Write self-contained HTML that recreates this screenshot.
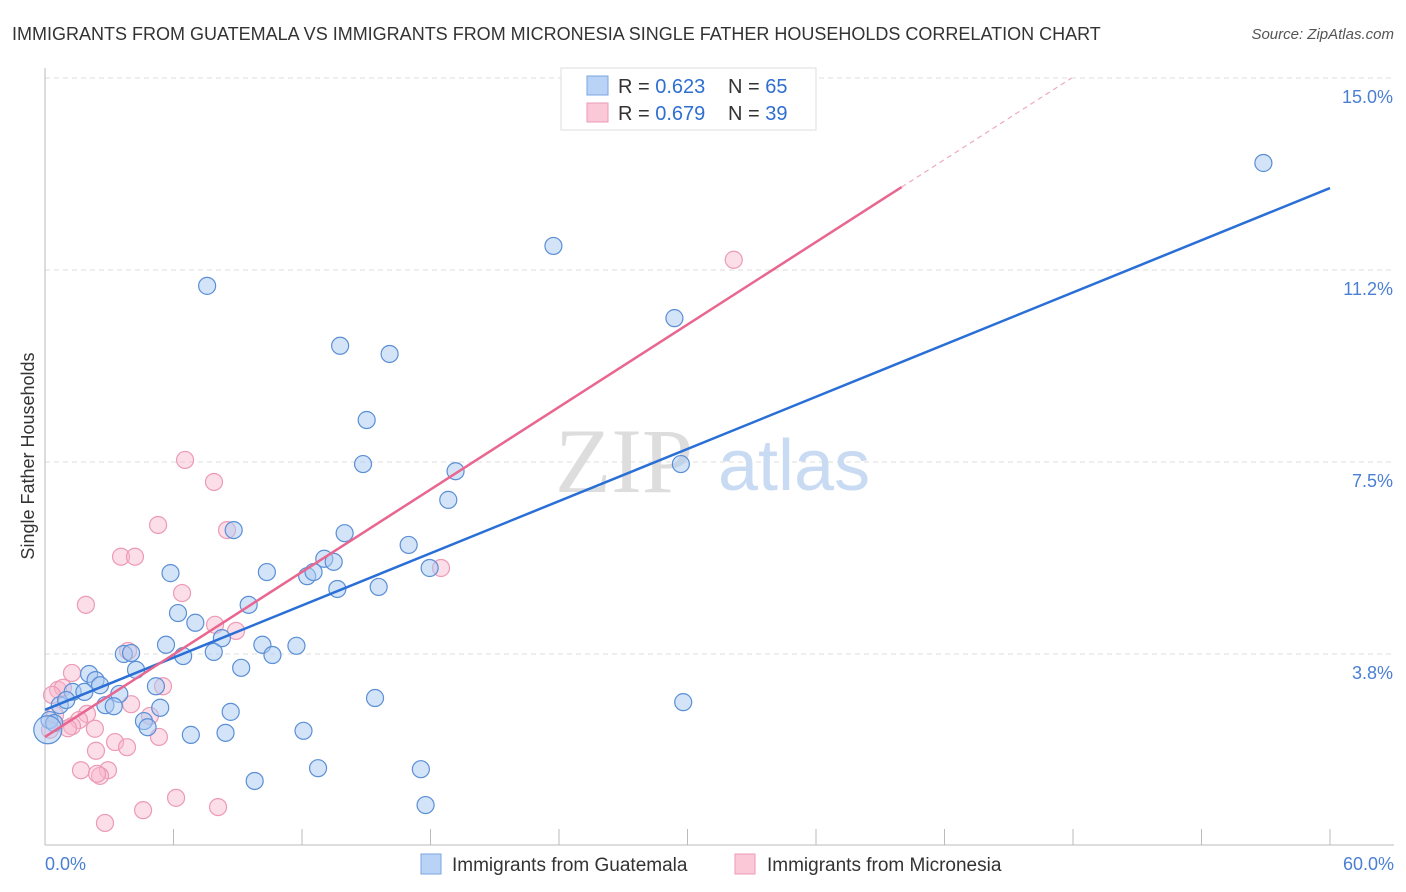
<!DOCTYPE html>
<html><head><meta charset="utf-8"><style>
body{margin:0;background:#fff;font-family:"Liberation Sans",sans-serif}
svg{display:block}
</style></head><body>
<svg id="chart" width="1406" height="892" xmlns="http://www.w3.org/2000/svg" font-family="Liberation Sans, sans-serif">
<text x="12" y="40" font-size="18" fill="#333">IMMIGRANTS FROM GUATEMALA VS IMMIGRANTS FROM MICRONESIA SINGLE FATHER HOUSEHOLDS CORRELATION CHART</text>
<text x="1394" y="39" font-size="15" fill="#555" text-anchor="end" font-style="italic">Source: ZipAtlas.com</text>
<g id="grid"></g>
<text x="555" y="492" font-size="92" fill="#ddd" font-family="Liberation Serif, serif">ZIP</text>
<text x="718" y="490" font-size="72" fill="#c9dbf2">atlas</text>
<line x1="45" y1="68" x2="45" y2="845" stroke="#bbb"/>
<line x1="45" y1="845" x2="1394" y2="845" stroke="#bbb"/>
<g id="ticks"></g>
<g id="pts"></g>
<g id="lines"></g>
<text transform="translate(34,456) rotate(-90)" font-size="18" fill="#333" text-anchor="middle">Single Father Households</text>
<text x="45" y="870" font-size="18" fill="#4a7fd4">0.0%</text>
<text x="1394" y="870" font-size="18" fill="#4a7fd4" text-anchor="end">60.0%</text>
<g>
<rect x="561" y="68" width="255" height="62" fill="#fff" stroke="#ddd"/>
<rect x="587" y="76" width="21" height="19" fill="#b8d3f5" stroke="#7aa5e0"/>
<rect x="587" y="103" width="21" height="19" fill="#fac8d7" stroke="#ec9ab5"/>
<text x="618" y="93" font-size="20" fill="#333">R = <tspan fill="#2f6fd0">0.623</tspan></text>
<text x="728" y="93" font-size="20" fill="#333">N = <tspan fill="#2f6fd0">65</tspan></text>
<text x="618" y="120" font-size="20" fill="#333">R = <tspan fill="#2f6fd0">0.679</tspan></text>
<text x="728" y="120" font-size="20" fill="#333">N = <tspan fill="#2f6fd0">39</tspan></text>
</g>
<g><rect x="421" y="854" width="20" height="20" fill="#b8d3f5" stroke="#7aa5e0"/><text x="452" y="871" font-size="19" fill="#333">Immigrants from Guatemala</text></g>
<g><rect x="735" y="854" width="20" height="20" fill="#fac8d7" stroke="#ec9ab5"/><text x="767" y="871" font-size="19" fill="#333">Immigrants from Micronesia</text></g>
</svg>
<script>
const yTicks=[3.75,7.5,11.25,15];
const yTickLabels=["3.8%","7.5%","11.2%","15.0%"];
const xTicks=[0,6,12,18,24,30,36,42,48,54,60];
const guatX=[56.89,23.74,7.57,29.39,13.78,16.09,15.02,14.85,29.69,19.17,18.83,8.81,13.99,16.98,13.04,13.48,17.96,5.86,10.36,12.24,12.54,13.65,15.58,9.51,6.21,7.02,8.26,5.65,10.15,11.74,7.88,6.45,10.62,3.68,4.02,4.25,9.16,2.06,2.36,2.57,5.18,1.29,1.84,3.47,15.41,29.80,0.69,2.82,3.21,5.38,8.67,0.99,4.62,4.79,0.21,0.43,12.07,6.81,8.43,12.75,17.55,9.79,17.77,0.13];
const guatY=[13.34,11.72,10.94,10.31,9.77,9.61,8.32,7.46,7.46,7.32,6.76,6.17,6.11,5.88,5.61,5.55,5.43,5.33,5.35,5.27,5.35,5.02,5.06,4.71,4.55,4.36,4.06,3.93,3.93,3.91,3.79,3.71,3.73,3.75,3.77,3.44,3.48,3.36,3.24,3.14,3.12,3.01,3.01,2.97,2.89,2.81,2.75,2.75,2.73,2.70,2.62,2.85,2.44,2.32,2.46,2.40,2.25,2.17,2.21,1.52,1.50,1.27,0.80,2.27];
const micX=[32.16,6.54,7.89,5.28,8.50,3.55,4.20,1.91,6.40,18.49,8.92,7.94,3.88,1.26,0.61,0.84,0.33,4.02,1.96,1.59,4.90,2.33,1.26,1.07,5.32,3.27,3.83,2.38,1.68,2.94,2.57,2.43,6.12,4.58,8.08,2.80,0.23,0.47,5.51];
const micY=[11.45,7.54,7.11,6.27,6.17,5.65,5.65,4.71,4.94,5.43,4.20,4.32,3.81,3.38,3.05,3.09,2.95,2.77,2.58,2.46,2.54,2.29,2.34,2.30,2.13,2.03,1.93,1.86,1.48,1.48,1.37,1.41,0.94,0.70,0.76,0.45,2.27,2.56,3.12];
const guatFit=[2.66,12.85];
const micFit=[2.13,12.87];
const NS="http://www.w3.org/2000/svg";
const X=v=>45+v/60*1285, Y=v=>846-v*51.2;
function mk(t,a,p){const e=document.createElementNS(NS,t);for(const k in a)e.setAttribute(k,a[k]);p.appendChild(e);return e;}
const grid=document.getElementById('grid');
yTicks.forEach((v,i)=>{
 const l=mk('line',{x1:45,x2:1394,y1:Y(v),y2:Y(v),stroke:'#ddd','stroke-dasharray':'5,4'},grid);
 
 
 const t=mk('text',{x:1393,y:Y(v)+25,'font-size':18,fill:'#4a7fd4','text-anchor':'end'},grid);
 t.textContent=yTickLabels[i];
 
 
});
const tk=document.getElementById('ticks');
xTicks.forEach(v=>{
 const l=mk('line',{x1:X(v),x2:X(v),y1:829,y2:845,stroke:'#bbb'},tk);
 
 
});
const pts=document.getElementById('pts');
micX.forEach((x,i)=>{
 const c=mk('circle',{cx:X(x),cy:Y(micY[i]),r:8.5,fill:'rgba(248,182,204,0.45)',stroke:'#ec9ab5','stroke-width':1.2},pts);
 
 
});
guatX.forEach((x,i)=>{
 const c=mk('circle',{cx:X(x),cy:Y(guatY[i]),r:i==guatX.length-1?14:8.5,fill:'rgba(170,202,242,0.5)',stroke:'#5a8fd6','stroke-width':1.2},pts);
 
 
});
const ln=document.getElementById('lines');
const b=mk('line',{x1:X(0),y1:Y(guatFit[0]),x2:X(60),y2:Y(guatFit[1]),stroke:'#2a6fd6','stroke-width':2.5},ln);


const slope=(micFit[1]-micFit[0])/40;
const p=mk('line',{x1:X(0),y1:Y(micFit[0]),x2:X(40),y2:Y(micFit[1]),stroke:'#e8668f','stroke-width':2.5},ln);


const xe=(15-micFit[0])/slope;
const d=mk('line',{x1:X(40),y1:Y(micFit[1]),x2:X(xe),y2:Y(15),stroke:'#eeaabf','stroke-width':1.2,'stroke-dasharray':'5,4'},ln);


</script>
</body></html>
